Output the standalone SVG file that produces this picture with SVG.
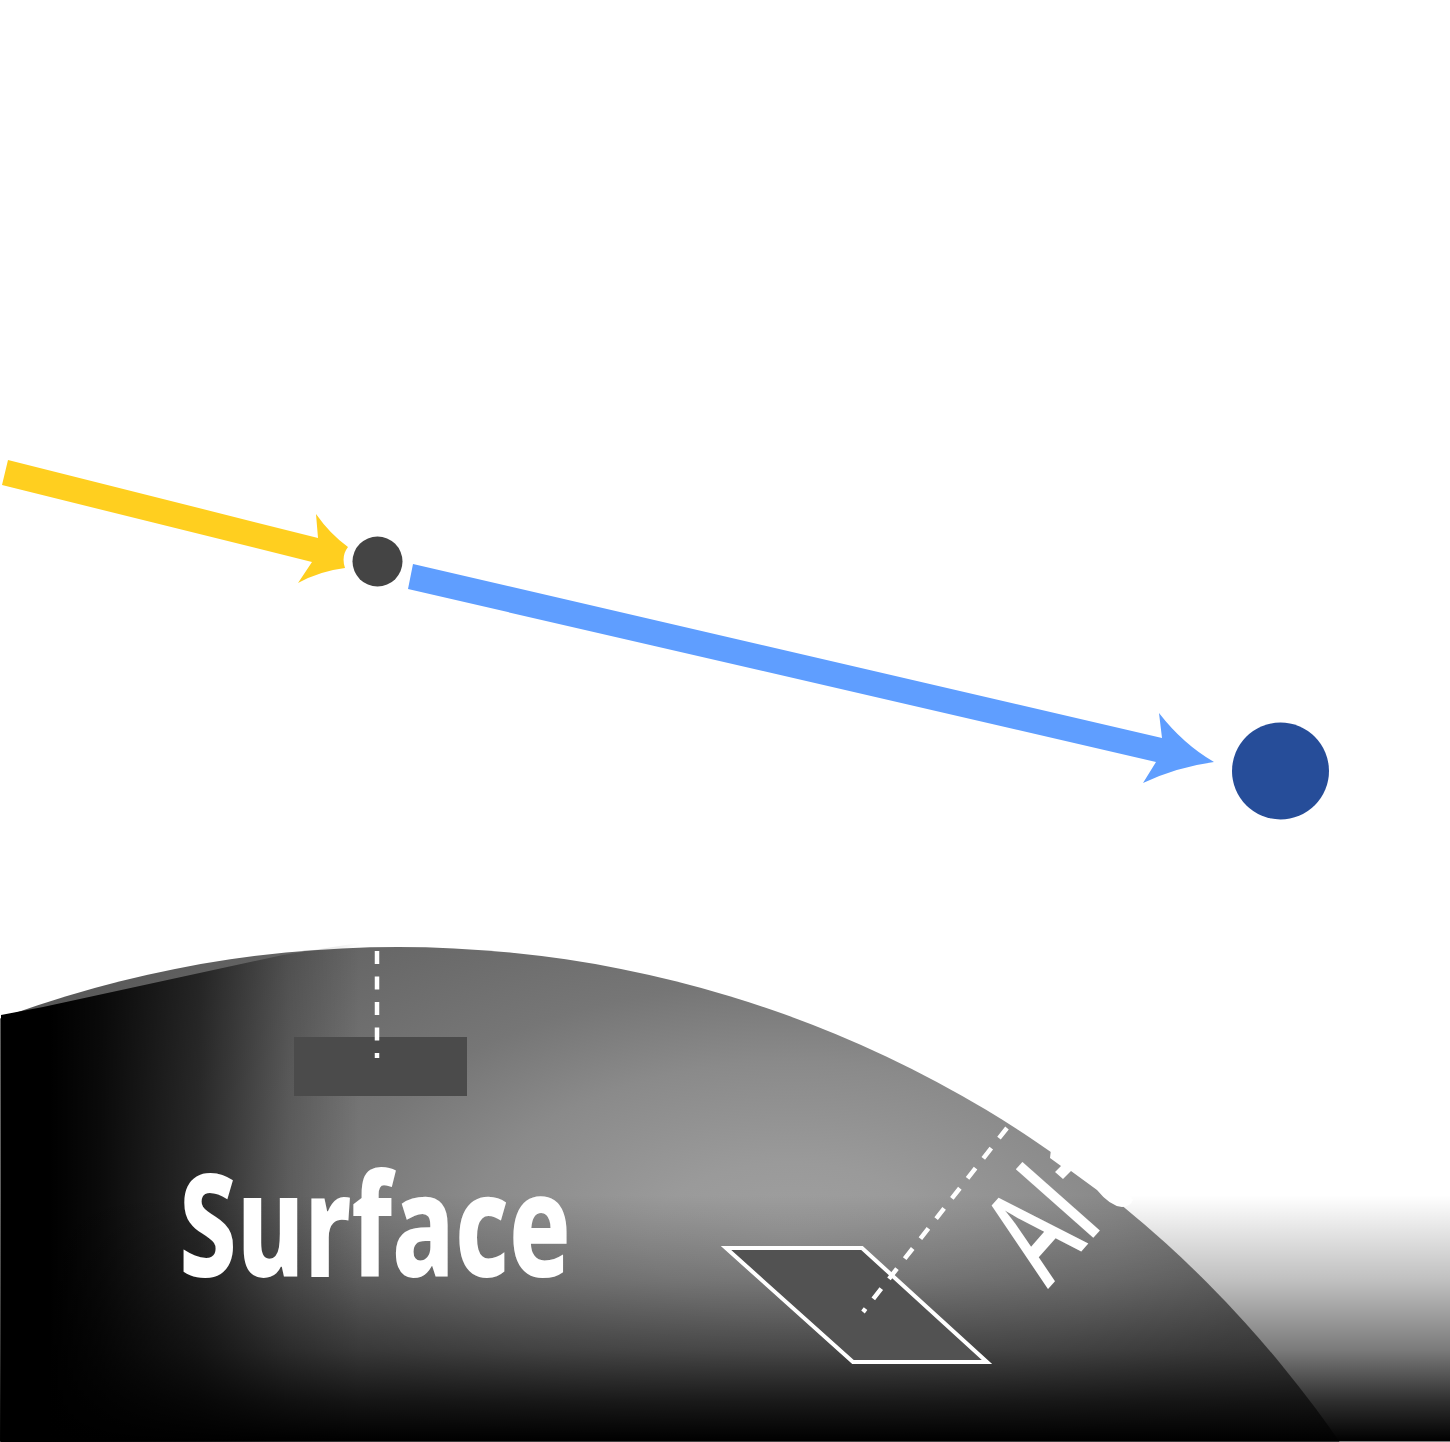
<svg xmlns="http://www.w3.org/2000/svg" width="1450" height="1442" viewBox="0 0 1450 1442">
<style>
.lbl{font-family:"Noto Sans","Liberation Sans",sans-serif;fill:#fff}
.dash{fill:none;stroke:#fff;stroke-width:4.500;stroke-dasharray:13 12.500}
</style>
<defs>
<radialGradient id="ground" gradientUnits="userSpaceOnUse" cx="0" cy="0" r="900" gradientTransform="translate(790 1240) scale(1 0.55)">
<stop offset="0" stop-color="#a0a0a0"/><stop offset="0.156" stop-color="#9a9a9a"/><stop offset="0.36" stop-color="#8a8a8a"/><stop offset="0.52" stop-color="#767676"/><stop offset="0.763" stop-color="#666"/><stop offset="1" stop-color="#555"/>
</radialGradient>
<linearGradient id="leftFade" gradientUnits="userSpaceOnUse" x1="50" y1="0" x2="360" y2="0">
<stop offset="0" stop-color="#000"/><stop offset="0.16" stop-color="#000" stop-opacity="0.9"/><stop offset="0.48" stop-color="#000" stop-opacity="0.62"/><stop offset="0.77" stop-color="#000" stop-opacity="0.2"/><stop offset="1" stop-color="#000" stop-opacity="0"/>
</linearGradient>
<linearGradient id="bottomFade" gradientUnits="userSpaceOnUse" x1="0" y1="1195" x2="0" y2="1441">
<stop offset="0" stop-color="#000" stop-opacity="0"/><stop offset="0.35" stop-color="#000" stop-opacity="0.25"/><stop offset="0.63" stop-color="#000" stop-opacity="0.52"/><stop offset="0.84" stop-color="#000" stop-opacity="0.82"/><stop offset="1" stop-color="#000"/>
</linearGradient>
</defs>
<rect width="1450" height="1442" fill="#fff"/>
<g id="surface">
<circle cx="398" cy="2090" r="1143" fill="url(#ground)"/>
<path d="M1 1015L43 1007L283 955L377 940V1442H1Z" fill="url(#leftFade)"/>
<rect x="0" y="1195" width="1450" height="246.500" fill="url(#bottomFade)"/>
</g>
<g id="surface-plate"><rect x="294" y="1037" width="173" height="59" fill="#4b4b4b"/></g>
<g id="tilted-plate"><path d="M726 1248H862L987 1362H853Z" fill="#525252" stroke="#fff" stroke-width="4"/></g>
<g id="connectors">
<path class="dash" d="M377 951V1058"/>
<path class="dash" d="M1007 1128L863 1312"/>
<path id="incoming" d="M8 460L318 538L316 514Q330 534 348 547Q341 556 345 568Q320 571 298 583L312 562L2 485Z" fill="#ffcf1f"/>
<path id="outgoing" d="M413 564L1162 738L1159 713Q1183 744 1214 762Q1177 767 1143 783L1156 762L408 589Z" fill="#5f9eff"/>
</g>
<g id="point-surface"><circle cx="377.500" cy="561.500" r="25" fill="#444"/></g>
<g id="point-satellite"><circle cx="1280.500" cy="771" r="48.500" fill="#264d99"/></g>
<g id="label-surface"><text class="lbl" x="179" y="1277" font-size="142" font-weight="800" textLength="392" lengthAdjust="spacingAndGlyphs">Surface</text></g>
<g id="label-altitude"><text class="lbl" transform="translate(1048 1289) rotate(-48.500)" font-size="136" font-weight="500" textLength="86" lengthAdjust="spacingAndGlyphs">Al</text></g>
<g id="mask"><path d="M1051 1149L1050 1158L1061 1166L1055 1172L1063 1179L1071 1171L1097 1190Q1110 1206 1122 1207Q1130 1207 1133 1200L1100 1140Z" fill="#fff"/></g>
</svg>
